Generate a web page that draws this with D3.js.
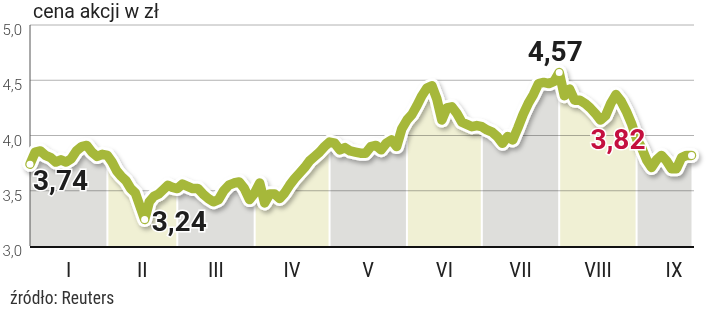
<!DOCTYPE html>
<html>
<head>
<meta charset="utf-8">
<script src="https://cdn.jsdelivr.net/npm/d3@7"></script>
<style>
  body { margin: 0; background: #fff; }
  svg { display: block; font-family: Roboto, "Liberation Sans", sans-serif; }
</style>
</head>
<body>
<div id="chart"></div>
<script>
// share price, zł - roughly 15 readings per month, September incomplete
var months = ['I', 'II', 'III', 'IV', 'V', 'VI', 'VII', 'VIII', 'IX'];
var jan = [3.74, 3.85, 3.86, 3.82, 3.80, 3.76, 3.78, 3.76, 3.79, 3.86, 3.90, 3.91, 3.85, 3.81, 3.83];
var feb = [3.82, 3.76, 3.68, 3.63, 3.59, 3.52, 3.48, 3.36, 3.24, 3.40, 3.45, 3.47, 3.51, 3.55, 3.53];
var mar = [3.52, 3.56, 3.54, 3.52, 3.52, 3.47, 3.43, 3.40, 3.42, 3.50, 3.55, 3.57, 3.58, 3.52, 3.42];
var apr = [3.48, 3.57, 3.39, 3.47, 3.47, 3.43, 3.48, 3.55, 3.61, 3.66, 3.71, 3.77, 3.81, 3.85, 3.90];
var may = [3.94, 3.93, 3.87, 3.89, 3.86, 3.85, 3.84, 3.84, 3.90, 3.91, 3.87, 3.93, 3.96, 3.90, 4.06];
var jun = [4.14, 4.19, 4.27, 4.36, 4.43, 4.45, 4.33, 4.14, 4.25, 4.26, 4.20, 4.12, 4.10, 4.08, 4.09];
var jul = [4.08, 4.05, 4.03, 3.99, 3.93, 3.99, 3.96, 4.07, 4.19, 4.29, 4.37, 4.47, 4.48, 4.47, 4.49];
var aug = [4.57, 4.36, 4.42, 4.32, 4.32, 4.29, 4.25, 4.20, 4.14, 4.18, 4.29, 4.37, 4.31, 4.22, 4.11];
var sep = [3.97, 3.89, 3.78, 3.71, 3.78, 3.82, 3.77, 3.70, 3.70, 3.80, 3.82, 3.82];
var monthValues = [jan, feb, mar, apr, may, jun, jul, aug, sep];
var readingsPerMonth = 15;
var year = 2011;
var lastDate = new Date(year, 8, 24);
var yTicks = [3.0, 3.5, 4.0, 4.5, 5.0];

var width = 720, height = 311;
var margin = { top: 25, right: 26, bottom: 65, left: 30 };
var plotW = width - margin.left - margin.right;
var plotH = height - margin.top - margin.bottom;

var pl = d3.formatLocale({ decimal: ',', thousands: ' ', grouping: [3], currency: ['', ' zł'] });
var fmtTick = pl.format('.1f');
var fmtValue = pl.format('.2f');

// spread each month's readings evenly over its days
var data = [];
monthValues.forEach(function(vals, m) {
    var start = new Date(year, m, 1);
    var days = d3.timeDay.count(start, new Date(year, m + 1, 1));
    vals.forEach(function(v, j) {
        var t = new Date(start.getTime() + j * days / readingsPerMonth * 864e5);
        data.push({ date: t, value: v, month: m });
    });
});

var x = d3.scaleTime().domain([new Date(year, 0, 1), lastDate]).range([0, plotW]);
var y = d3.scaleLinear().domain([3, 5]).range([plotH, 0]);

var svg = d3.select('#chart').append('svg')
    .attr('width', width)
    .attr('height', height);

var defs = svg.append('defs');
var shadow = defs.append('filter').attr('id', 'shadow')
    .attr('x', '-5%').attr('y', '-20%').attr('width', '110%').attr('height', '140%');
shadow.append('feDropShadow')
    .attr('dx', 2).attr('dy', 3).attr('stdDeviation', 2)
    .attr('flood-color', '#000').attr('flood-opacity', 0.3);

svg.append('text')
    .attr('x', 33).attr('y', 18)
    .style('font-size', '19.5px')
    .attr('fill', '#222')
    .text('cena akcji w zł');

var g = svg.append('g').attr('transform', 'translate(' + margin.left + ',' + margin.top + ')');

// month bands = area under the line, alternately gray / pale yellow
var area = d3.area()
    .x(function(d) { return x(d.date); })
    .y0(plotH)
    .y1(function(d) { return y(d.value); });

months.forEach(function(name, m) {
    var x0 = x(new Date(year, m, 1));
    var x1 = Math.min(x(new Date(year, m + 1, 1)), plotW);
    defs.append('clipPath').attr('id', 'clip' + m)
        .append('rect')
        .attr('x', x0 + (m ? 1 : 0)).attr('y', 0)
        .attr('width', x1 - x0 - (m ? 1 : 0) - (x1 < plotW ? 1 : 0))
        .attr('height', plotH);
    g.append('path')
        .datum(data)
        .attr('d', area)
        .attr('clip-path', 'url(#clip' + m + ')')
        .attr('fill', m % 2 ? '#f0f0d4' : '#dededb');
});

// grid
g.selectAll('.grid')
    .data(yTicks.slice(1))
    .enter().append('line')
    .attr('x1', 0).attr('x2', plotW)
    .attr('y1', function(d) { return y(d); })
    .attr('y2', function(d) { return y(d); })
    .attr('stroke', '#b2b2b2')
    .attr('stroke-width', 1)
    .style('mix-blend-mode', 'multiply');

g.selectAll('.ytick')
    .data(yTicks)
    .enter().append('text')
    .attr('x', -8)
    .attr('y', function(d) { return y(d) + 10; })
    .attr('text-anchor', 'end')
    .style('font-size', '15px')
    .style('font-weight', 300)
    .attr('fill', '#444')
    .text(fmtTick);

g.append('line')
    .attr('x1', 0).attr('x2', 0).attr('y1', 0).attr('y2', plotH)
    .attr('stroke', '#555').attr('stroke-width', 1);

g.append('line')
    .attr('x1', 0).attr('x2', plotW).attr('y1', plotH + 1).attr('y2', plotH + 1)
    .attr('stroke', '#111').attr('stroke-width', 2);

g.selectAll('.month')
    .data(months)
    .enter().append('text')
    .attr('x', function(d, m) {
        return (x(new Date(year, m, 1)) + x(new Date(year, m + 1, 1))) / 2;
    })
    .attr('y', plotH + 31)
    .attr('text-anchor', 'middle')
    .style('font-family', '"Liberation Sans Narrow", "Roboto Condensed", Roboto, sans-serif')
    .style('font-size', '21px')
    .attr('fill', '#222')
    .text(function(d) { return d; });

// the price line: white halo with shadow, then green
var line = d3.line()
    .x(function(d) { return x(d.date); })
    .y(function(d) { return y(d.value); });

g.append('path')
    .datum(data)
    .attr('d', line)
    .attr('fill', 'none')
    .attr('stroke', '#fff')
    .attr('stroke-width', 15)
    .attr('stroke-linejoin', 'round')
    .attr('stroke-linecap', 'round')
    .attr('filter', 'url(#shadow)');

g.append('path')
    .datum(data)
    .attr('d', line)
    .attr('fill', 'none')
    .attr('stroke', '#a6b83a')
    .attr('stroke-width', 9.5)
    .attr('stroke-linejoin', 'round')
    .attr('stroke-linecap', 'round');

// highlighted readings
var first = data[0];
var last = data[data.length - 1];
var lo = data[d3.minIndex(data, function(d) { return d.value; })];
var hi = data[d3.maxIndex(data, function(d) { return d.value; })];
var callouts = [
    { d: first, dx: 3, dy: 26, anchor: 'start', color: '#1e1e1e' },
    { d: lo, dx: 7, dy: 12, anchor: 'start', color: '#1e1e1e' },
    { d: hi, dx: -4, dy: -12, anchor: 'middle', color: '#1e1e1e' },
    { d: last, dx: -46, dy: -6, anchor: 'end', color: '#c4103f' }
];

g.selectAll('.marker')
    .data(callouts)
    .enter().append('circle')
    .attr('cx', function(c) { return x(c.d.date); })
    .attr('cy', function(c) { return y(c.d.value); })
    .attr('r', 3.5)
    .attr('fill', '#fff');

g.selectAll('.callout')
    .data(callouts)
    .enter().append('text')
    .attr('x', function(c) { return x(c.d.date) + c.dx; })
    .attr('y', function(c) { return y(c.d.value) + c.dy; })
    .attr('text-anchor', function(c) { return c.anchor; })
    .style('font-size', '28px')
    .style('font-weight', 700)
    .attr('fill', function(c) { return c.color; })
    .attr('stroke', '#fff')
    .attr('stroke-width', 3)
    .attr('paint-order', 'stroke')
    .text(function(c) { return fmtValue(c.d.value); });

svg.append('text')
    .attr('x', 10).attr('y', 304)
    .style('font-family', '"Liberation Sans Narrow", "Roboto Condensed", Roboto, sans-serif')
    .style('font-size', '17.5px')
    .attr('fill', '#333')
    .text('źródło: Reuters');
</script>
</body>
</html>
